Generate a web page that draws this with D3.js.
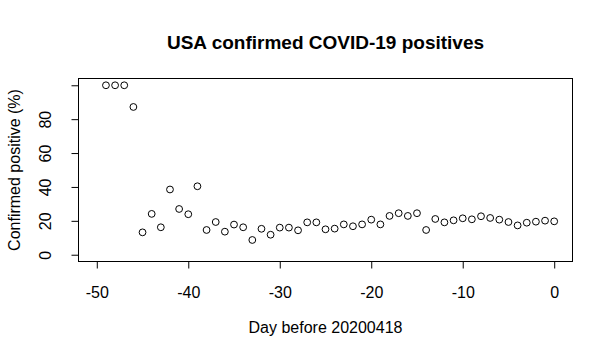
<!DOCTYPE html>
<html>
<head>
<meta charset="utf-8">
<script src="https://cdn.jsdelivr.net/npm/d3@7"></script>
<style>
body{margin:0;background:#fff;}
text{font-family:"Liberation Sans",Arial,Helvetica,sans-serif;fill:#000;}
</style>
</head>
<body>
<svg id="chart" width="613" height="359"></svg>
<script>
const days = d3.range(-49, 1);
const positives = [100,100,100,87.2,13.2,24.1,16.2,38.5,27,23.9,
  40.4,14.6,19.3,13.6,17.8,16.2,8.7,15.3,11.8,16,
  16,14.4,19.1,19.1,15,15.4,17.9,16.8,17.9,20.7,
  17.9,22.9,24.5,22.9,24.5,14.6,21.1,19.1,20.3,21.5,
  20.9,22.7,21.7,20.7,19.3,17.3,18.9,19.5,20.1,19.7];
const xTicks = [-50,-40,-30,-20,-10,0];
const xTickLabels = ["-50","-40","-30","-20","-10","0"];
const yTicks = [0,20,40,60,80,100];
const yTickLabels = ["0","20","40","60","80",""];
const title = "USA confirmed COVID-19 positives";
const xTitle = "Day before 20200418";
const yTitle = "Confirmed positive (%)";

const svg = d3.select("#chart");
const L=78.5, R=572.5, T=78.5, B=261.5;
const x = d3.scaleLinear().domain([-52,2]).range([L,R]);
const y = d3.scaleLinear().domain([-4,104]).range([B,T]);

// box
svg.append("rect").attr("x",L).attr("y",T).attr("width",R-L).attr("height",B-T)
  .attr("fill","none").attr("stroke","#000").attr("stroke-width",1);

// x axis
const gx = svg.append("g").attr("transform",`translate(0,${B})`)
  .call(d3.axisBottom(x).tickValues(xTicks).tickSize(7).tickFormat((d,i)=>xTickLabels[i]));
gx.select(".domain").attr("d",`M${x(-50)},0H${x(0)}`);
gx.selectAll(".tick text").attr("font-size",16).attr("font-family","Liberation Sans, Arial, sans-serif")
  .attr("fill","#000").attr("y",36).attr("dy",0);

// y axis
const gy = svg.append("g").attr("transform",`translate(${L},0)`)
  .call(d3.axisLeft(y).tickValues(yTicks).tickSize(7).tickFormat((d,i)=>yTickLabels[i]));
gy.select(".domain").attr("d",`M0,${y(0)}V${y(100)}`);
gy.selectAll(".tick text").attr("font-size",16).attr("font-family","Liberation Sans, Arial, sans-serif")
  .attr("fill","#000").attr("text-anchor","middle").attr("x",0).attr("dy",0)
  .attr("transform","translate(-27.5,0) rotate(-90)");

// points
svg.append("g").selectAll("circle").data(days).join("circle")
  .attr("cx",(d)=>x(d)).attr("cy",(d,i)=>y(positives[i])).attr("r",3.4)
  .attr("fill","none").attr("stroke","#000").attr("stroke-width",1);

// titles
svg.append("text").attr("x",(L+R)/2).attr("y",49).attr("text-anchor","middle")
  .attr("font-size",19).attr("font-weight","bold").text(title);
svg.append("text").attr("x",(L+R)/2).attr("y",333).attr("text-anchor","middle")
  .attr("font-size",16).text(xTitle);
svg.append("text").attr("transform",`translate(19.5,${(T+B)/2}) rotate(-90)`).attr("text-anchor","middle")
  .attr("font-size",16).text(yTitle);
</script>
</body>
</html>
